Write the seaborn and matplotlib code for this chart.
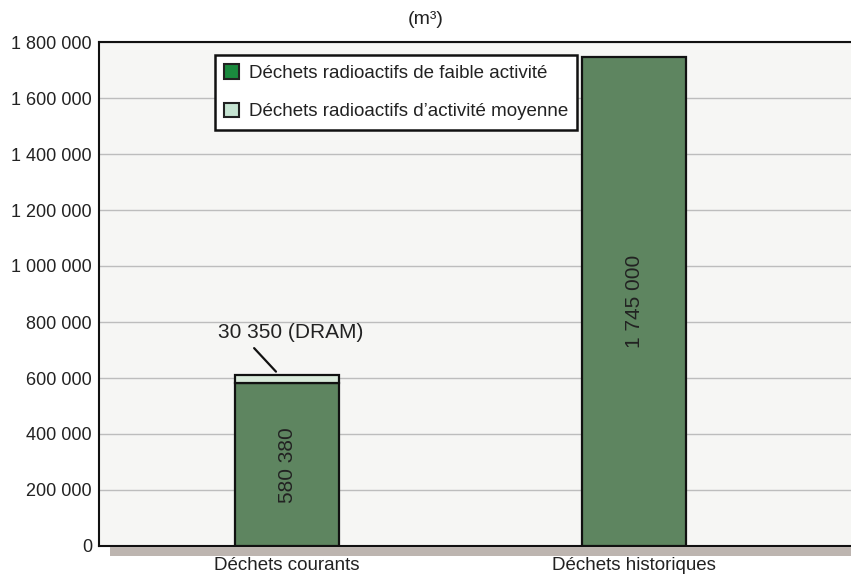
import matplotlib
matplotlib.use("Agg")
import matplotlib.pyplot as plt
import matplotlib.patches as mpatches
import seaborn as sns
import pandas as pd

categories = ["Déchets courants", "Déchets historiques"]
faible_activite = [580380, 1745000]
moyenne_activite = [30350, 0]
series_names = ["Déchets radioactifs de faible activité",
                "Déchets radioactifs d\u2019activité moyenne"]
yticks = [0, 200000, 400000, 600000, 800000, 1000000, 1200000,
          1400000, 1600000, 1800000]
bar_labels = ["580 380", "1 745 000"]
dram_label = "30 350 (DRAM)"

sns.set_style("white")
plt.rcParams["font.family"] = ["Liberation Sans", "DejaVu Sans"]

W, H = 851, 578
fig = plt.figure(figsize=(W / 100, H / 100), dpi=100)
ax = fig.add_axes([99 / W, 1 - 546 / H, (W - 99) / W, (546 - 42) / H])
ax.set_facecolor("#f6f6f4")

dark_green = "#5e8560"
light_green = "#d9eadb"
text_color = "#222222"

df = pd.DataFrame({"cat": categories, "faible": faible_activite,
                   "moyenne": moyenne_activite})
upper = df[df["moyenne"] > 0]

sns.barplot(data=df, x="cat", y="faible", color=dark_green, width=0.30,
            edgecolor="#111111", linewidth=1.6, saturation=1, ax=ax, zorder=3)
sns.barplot(data=upper, x="cat", y="moyenne", bottom=upper["faible"].values,
            order=categories, color=light_green, width=0.30,
            edgecolor="#111111", linewidth=1.6, saturation=1, ax=ax, zorder=3)

ax.set_xlim(-0.542, 1.625)
ax.set_ylim(0, 1800000)
ax.set_yticks(yticks)
ax.set_yticklabels([f"{v:,}".replace(",", " ") for v in yticks], fontsize=13,
                   color=text_color)
ax.set_xticks([0, 1])
ax.set_xticklabels(categories, fontsize=13.5, color=text_color)
ax.tick_params(axis="x", length=0, pad=8)
ax.tick_params(axis="y", length=3, width=1, color="#222222", pad=2)
ax.set_xlabel("")
ax.set_ylabel("")
ax.grid(axis="y", color="#bdbdbd", linewidth=1, zorder=0)
ax.set_axisbelow(True)

for side in ["left", "bottom", "top"]:
    ax.spines[side].set_visible(True)
    ax.spines[side].set_color("#111111")
    ax.spines[side].set_linewidth(1.5)
ax.spines["right"].set_visible(False)

# Values written vertically inside the bars
for i, (v, lab) in enumerate(zip(faible_activite, bar_labels)):
    ax.text(i, v / 2, lab, rotation=90, ha="center", va="center",
            fontsize=15, color=text_color, zorder=4)

# Callout for the intermediate-level layer
top0 = faible_activite[0] + moyenne_activite[0]
ax.annotate("", xy=(-0.032, top0 + 12000), xytext=(-0.095, top0 + 96000),
            arrowprops=dict(arrowstyle="-", color="#111111", lw=1.6,
                            shrinkA=0, shrinkB=0), zorder=4)
ax.text(0.01, top0 + 150000, dram_label, ha="center",
        va="center", fontsize=15, color=text_color, zorder=4)

# Shadow band beneath the plot area
shadow = mpatches.Rectangle((110 / W, 1 - 556 / H), (W - 110) / W, 9 / H,
                            transform=fig.transFigure, facecolor="#bdb5b0",
                            edgecolor="none", zorder=0)
fig.patches.append(shadow)

# Legend
handles = [mpatches.Patch(facecolor="#1a8a3e", edgecolor="#222222", lw=1.5),
           mpatches.Patch(facecolor="#c6e4d2", edgecolor="#222222", lw=1.5)]
leg = fig.legend(handles, series_names, loc="upper left",
                 bbox_to_anchor=(215 / W, 1 - 55 / H), fontsize=13.5,
                 frameon=True, fancybox=False, edgecolor="#111111",
                 framealpha=1, handlelength=0.8, handleheight=0.8,
                 handletextpad=0.5, borderpad=0.5, labelspacing=1.1,
                 borderaxespad=0)
leg.get_frame().set_linewidth(1.8)
leg.set_zorder(5)
for t in leg.get_texts():
    t.set_color(text_color)

fig.text(0.5, 1 - 20 / H, "(m\u00b3)", ha="center", va="center",
         fontsize=14, color=text_color)

fig.savefig("out.png", dpi=100, facecolor="white")
